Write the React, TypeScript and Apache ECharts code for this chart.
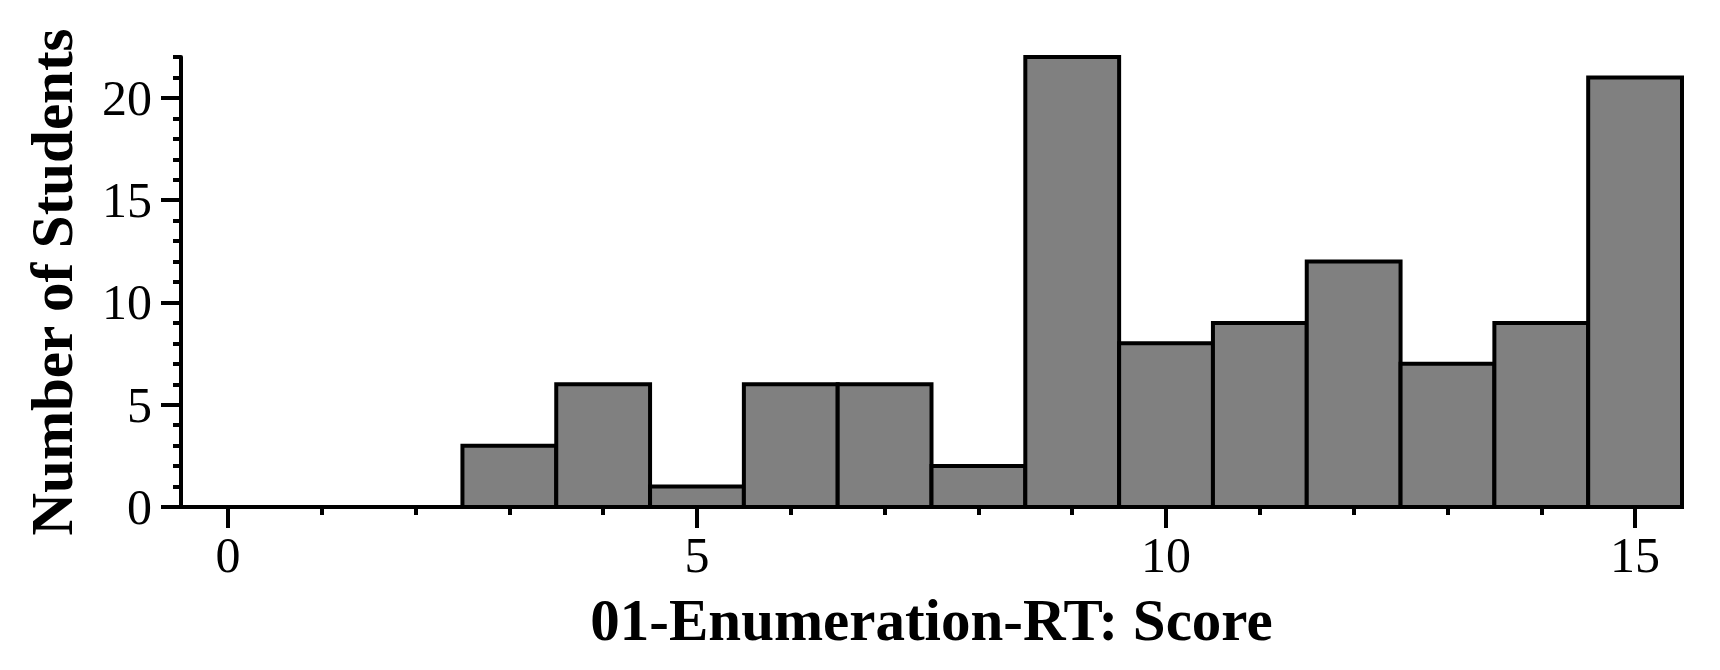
import React, { useEffect, useRef } from "react";
import * as echarts from "echarts";

const scores = [0, 1, 2, 3, 4, 5, 6, 7, 8, 9, 10, 11, 12, 13, 14, 15];
const counts = [0, 0, 0, 3, 6, 1, 6, 6, 2, 22, 8, 9, 12, 7, 9, 21];
const xMajorTicks = [0, 5, 10, 15];
const xMinorTicks = [0, 1, 2, 3, 4, 5, 6, 7, 8, 9, 10, 11, 12, 13, 14, 15];
const yMajorTicks = [0, 5, 10, 15, 20];
const yMinorTicks = [0, 1, 2, 3, 4, 5, 6, 7, 8, 9, 10, 11, 12, 13, 14, 15, 16, 17, 18, 19, 20, 21, 22];
const xTitle = "01-Enumeration-RT: Score";
const yTitle = "Number of Students";

const FONT = "'Liberation Serif', 'Times New Roman', serif";

export default function App() {
  const ref = useRef<HTMLDivElement>(null);
  useEffect(() => {
    if (!ref.current) return;
    const chart = echarts.init(ref.current, null, { renderer: "svg" });
    const data = scores.map((s, i) => [s, counts[i]]);
    const xMin = -0.5;
    const xMax = 15.5;
    const yMin = 0;
    const yMax = 22;
    chart.setOption({
      animation: false,
      backgroundColor: "#ffffff",
      grid: { left: 181, right: 38, top: 57, bottom: 163, containLabel: false },
      xAxis: [
        {
          type: "value",
          position: "bottom",
          min: xMin,
          max: xMax,
          name: xTitle,
          nameLocation: "middle",
          nameGap: 83,
          nameTextStyle: { fontFamily: FONT, fontWeight: "bold", fontSize: 59, color: "#000" },
          axisLine: { show: true, onZero: false, lineStyle: { color: "#000", width: 4 } },
          axisTick: { show: true, customValues: xMajorTicks, length: 21, lineStyle: { color: "#000", width: 4 } },
          axisLabel: { show: true, customValues: xMajorTicks, margin: 23, fontFamily: FONT, fontSize: 50, color: "#000" },
          splitLine: { show: false },
        },
        {
          type: "value",
          position: "bottom",
          min: xMin,
          max: xMax,
          axisLine: { show: false, onZero: false },
          axisTick: { show: true, customValues: xMinorTicks, length: 8, lineStyle: { color: "#000", width: 4 } },
          axisLabel: { show: false },
          splitLine: { show: false },
        },
      ],
      yAxis: [
        {
          type: "value",
          position: "left",
          min: yMin,
          max: yMax,
          name: yTitle,
          nameLocation: "middle",
          nameGap: 100,
          nameTextStyle: { fontFamily: FONT, fontWeight: "bold", fontSize: 59, color: "#000" },
          axisLine: { show: true, onZero: false, lineStyle: { color: "#000", width: 4 } },
          axisTick: { show: true, customValues: yMajorTicks, length: 20, lineStyle: { color: "#000", width: 4 } },
          axisLabel: { show: true, customValues: yMajorTicks, margin: 29, fontFamily: FONT, fontSize: 50, color: "#000" },
          splitLine: { show: false },
        },
        {
          type: "value",
          position: "left",
          min: yMin,
          max: yMax,
          axisLine: { show: false, onZero: false },
          axisTick: { show: true, customValues: yMinorTicks, length: 8, lineStyle: { color: "#000", width: 4 } },
          axisLabel: { show: false },
          splitLine: { show: false },
        },
      ],
      series: [
        {
          type: "custom",
          xAxisIndex: 0,
          yAxisIndex: 0,
          encode: { x: 0, y: 1 },
          data,
          renderItem: (params: any, api: any) => {
            const x = api.value(0);
            const y = api.value(1);
            if (!y) return { type: "group", children: [] };
            const p0 = api.coord([x - 0.5, y]);
            const p1 = api.coord([x + 0.5, 0]);
            return {
              type: "rect",
              shape: { x: p0[0], y: p0[1], width: p1[0] - p0[0], height: p1[1] - p0[1] },
              style: { fill: "#808080", stroke: "#000000", lineWidth: 4 },
            };
          },
        },
      ],
    });
    return () => chart.dispose();
  }, []);
  return (
    <div
      ref={ref}
      style={{ position: "absolute", left: 0, top: 0, width: 1720, height: 670, background: "#fff" }}
    />
  );
}
